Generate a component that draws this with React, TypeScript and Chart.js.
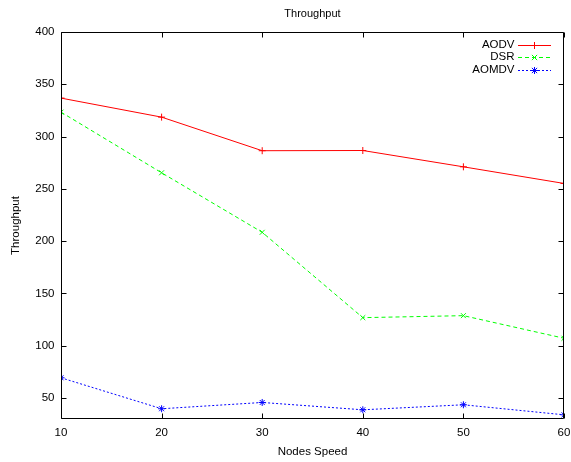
import React, { useEffect, useRef } from 'react';
import { Chart, registerables } from 'chart.js';

Chart.register(...registerables);

const speeds = [10, 20, 30, 40, 50, 60];
const aodv = [336.8, 318.6, 286.5, 286.7, 271.1, 255.2];
const dsr = [323.4, 265.4, 208.5, 126.9, 128.8, 107.2];
const aomdv = [69.4, 39.8, 45.8, 38.8, 43.6, 34.0];
const yTicks = [50, 100, 150, 200, 250, 300, 350, 400];
const xTicks = [10, 20, 30, 40, 50, 60];
const seriesNames = ['AODV', 'DSR', 'AOMDV'];
const seriesColors = ['#ff0000', '#00ff00', '#0000ff'];
const seriesDash = [[], [4, 3], [2, 2]];
const seriesMarkers = ['cross', 'crossRot', 'star'];

const FONT = '"Liberation Sans", Arial, Helvetica, sans-serif';
const TEXT = '#000';

function drawMarker(ctx: CanvasRenderingContext2D, style: string, x: number, y: number, r: number) {
  ctx.beginPath();
  if (style === 'cross' || style === 'star') {
    ctx.moveTo(x - r, y);
    ctx.lineTo(x + r, y);
    ctx.moveTo(x, y - r);
    ctx.lineTo(x, y + r);
  }
  if (style === 'crossRot' || style === 'star') {
    const d = r * 0.75;
    ctx.moveTo(x - d, y - d);
    ctx.lineTo(x + d, y + d);
    ctx.moveTo(x - d, y + d);
    ctx.lineTo(x + d, y - d);
  }
  ctx.stroke();
}

const gnuplotDecor = {
  id: 'gnuplotDecor',
  afterDraw(chart: any) {
    const { ctx, chartArea: a, scales } = chart;
    ctx.save();
    ctx.strokeStyle = '#000';
    ctx.lineWidth = 1;
    ctx.setLineDash([]);
    const L = Math.round(a.left) + 0.5;
    const R = Math.round(a.right) - 0.5;
    const T = Math.round(a.top) + 0.5;
    const B = Math.round(a.bottom) - 0.5;
    ctx.beginPath();
    ctx.rect(L, T, R - L, B - T);
    yTicks.forEach((v) => {
      const y = Math.round(scales.y.getPixelForValue(v)) + 0.5;
      ctx.moveTo(L, y);
      ctx.lineTo(L + 5, y);
      ctx.moveTo(R, y);
      ctx.lineTo(R - 5, y);
    });
    xTicks.forEach((v) => {
      const x = Math.round(scales.x.getPixelForValue(v)) + 0.5;
      ctx.moveTo(x, B);
      ctx.lineTo(x, B - 5);
      ctx.moveTo(x, T);
      ctx.lineTo(x, T + 5);
    });
    ctx.stroke();

    // legend (gnuplot style, inside top-right)
    const rows = [44.5, 57, 69.5];
    ctx.font = `11.5px ${FONT}`;
    ctx.textAlign = 'right';
    ctx.textBaseline = 'middle';
    seriesNames.forEach((name, i) => {
      const y = rows[i];
      const yy = Math.round(y) + 0.5;
      ctx.fillStyle = TEXT;
      ctx.fillText(name, 514.5, y);
      ctx.strokeStyle = seriesColors[i];
      ctx.lineWidth = 1;
      ctx.setLineDash(seriesDash[i]);
      ctx.beginPath();
      ctx.moveTo(518, yy);
      ctx.lineTo(551, yy);
      ctx.stroke();
      ctx.setLineDash([]);
      drawMarker(ctx, seriesMarkers[i], 534.5, yy, 3.5);
    });
    ctx.restore();
  },
};

export default function App() {
  const ref = useRef<HTMLCanvasElement>(null);

  useEffect(() => {
    if (!ref.current) return;
    const font = { family: FONT, size: 11.5, weight: 'normal' as const };
    const values = [aodv, dsr, aomdv];
    const datasets = seriesNames.map((label, k) => ({
      label,
      data: speeds.map((s, i) => ({ x: s, y: values[k][i] })),
      borderColor: seriesColors[k],
      backgroundColor: seriesColors[k],
      borderWidth: 1,
      borderDash: seriesDash[k],
      pointStyle: seriesMarkers[k],
      pointRadius: 3.5,
      pointBorderWidth: 1,
      pointBorderColor: seriesColors[k],
      fill: false,
      tension: 0,
    }));
    const chart = new Chart(ref.current, {
      type: 'line',
      data: { datasets: datasets as any },
      options: {
        animation: false,
        responsive: false,
        layout: { padding: { left: 0, right: 7, top: 0, bottom: 0 } },
        plugins: {
          legend: { display: false },
          tooltip: { enabled: false },
          title: {
            display: true,
            text: 'Throughput',
            fullSize: false,
            color: TEXT,
            font: { family: FONT, size: 11, weight: 'normal' },
            padding: { top: 7, bottom: 11.8 },
          },
        },
        scales: {
          x: {
            type: 'linear',
            min: 10,
            max: 60,
            afterBuildTicks: (s: any) => {
              s.ticks = xTicks.map((v) => ({ value: v }));
            },
            afterFit: (s: any) => {
              s.height = 43;
              s.paddingLeft = 0;
              s.paddingRight = 0;
            },
            grid: { display: false, drawTicks: false },
            border: { display: false },
            ticks: { font, color: TEXT, padding: 7, maxRotation: 0, autoSkip: false },
            title: {
              display: true,
              text: 'Nodes Speed',
              font,
              color: TEXT,
              padding: { top: 0, bottom: 3.5 },
            },
          },
          y: {
            type: 'linear',
            min: 30,
            max: 400,
            afterBuildTicks: (s: any) => {
              s.ticks = yTicks.map((v) => ({ value: v }));
            },
            afterFit: (s: any) => {
              s.width = 61;
              s.paddingTop = 0;
              s.paddingBottom = 0;
            },
            grid: { display: false, drawTicks: false },
            border: { display: false },
            ticks: { font, color: TEXT, padding: 6.5, autoSkip: false },
            title: {
              display: true,
              text: 'Throughput',
              font,
              color: TEXT,
              padding: { top: 9, bottom: 0 },
            },
          },
        },
      } as any,
      plugins: [gnuplotDecor],
    });
    return () => chart.destroy();
  }, []);

  return (
    <div style={{ position: 'absolute', left: 0, top: 0, width: 571, height: 462, background: '#fff' }}>
      <canvas ref={ref} width={571} height={462} />
    </div>
  );
}
